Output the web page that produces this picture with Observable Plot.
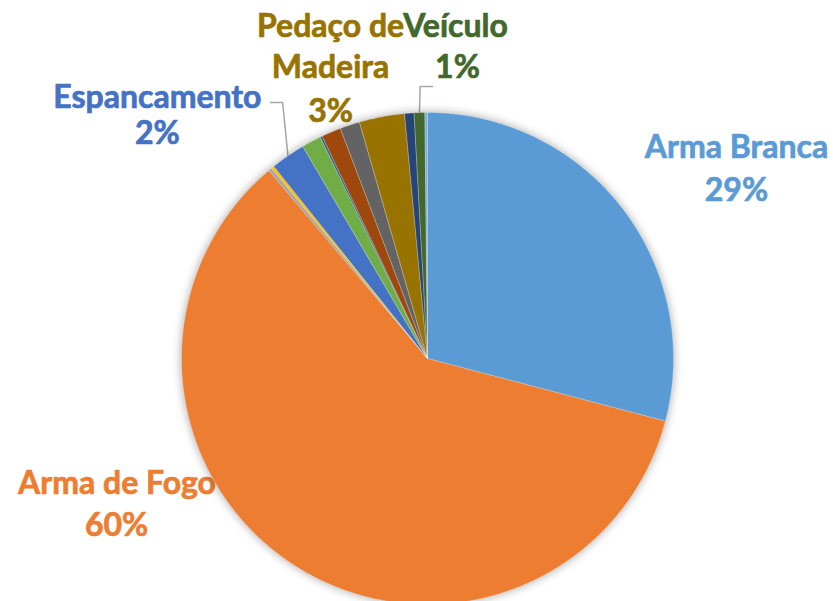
<!DOCTYPE html>
<html><head><meta charset="utf-8">
<script src="https://cdn.jsdelivr.net/npm/d3@7"></script>
<script src="https://cdn.jsdelivr.net/npm/@observablehq/plot@0.6"></script>
<style>body{margin:0;background:#fff;} #chart{width:833px;height:601px;overflow:hidden}</style>
</head><body><div id="chart"></div>
<script>
// Data (shares in %, clockwise from 12 o'clock)
const categories = ["Arma Branca","Arma de Fogo","Outro A","Outro B","Espancamento","Outro C","Outro D","Outro E","Outro F","Pedaço de Madeira","Outro G","Veículo","Outro H"];
const values = [29.1, 59.75, 0.22, 0.19, 2.28, 1.28, 0.14, 1.28, 1.3, 2.97, 0.62, 0.7, 0.17];
const colors = ["#5B9BD5","#ED7D31","#A5A5A5","#FFC000","#4472C4","#70AD47","#255E91","#9E480E","#636363","#997300","#264478","#43682B","#7CAFDD"];
const labeledCategories = ["Arma Branca","Arma de Fogo","Espancamento","Pedaço de Madeira","Veículo"];
const nameLines = {"Pedaço de Madeira": ["Pedaço de","Madeira"]};

// Layout (label line positions in pie-radius units from the centre; last line = percentage)
const labelLayout = {
  "Arma Branca": [[1.256, 0.817], [1.256, 0.642]],
  "Arma de Fogo": [[-1.262, -0.549], [-1.264, -0.720]],
  "Espancamento": [[-1.098, 1.020], [-1.098, 0.870]],
  "Pedaço de Madeira": [[-0.394, 1.305], [-0.394, 1.142], [-0.394, 0.963]],
  "Veículo": [[0.114, 1.305], [0.122, 1.142]]
};
const leaderLayout = {
  "Espancamento": [[-0.638, 1.041], [-0.589, 1.041]],
  "Veículo": [[0.020, 1.106], [-0.030, 1.106]]
};

const data = categories.map((name, i) => ({name, value: values[i]}));
const total = d3.sum(values);
const fmt = d3.format(".0%");
const arcs = d3.pie().sort(null).value(d => d.value)(data);
const byName = new Map(arcs.map(a => [a.data.name, a]));

const step = Math.PI / 720;
const slicePts = arcs.flatMap(a => {
  const name = a.data.name;
  const n = Math.max(2, Math.ceil((a.endAngle - a.startAngle) / step));
  const pts = [{name, x: 0, y: 0}];
  for (let i = 0; i <= n; i++) {
    const t = a.startAngle + (a.endAngle - a.startAngle) * i / n;
    pts.push({name, x: Math.sin(t), y: Math.cos(t)});
  }
  pts.push({name, x: 0, y: 0});
  return pts;
});

const labelData = labeledCategories.flatMap(name => {
  const lines = (nameLines[name] || [name]).concat([fmt(byName.get(name).value / total)]);
  return lines.map((text, i) => ({name, text, x: labelLayout[name][i][0], y: labelLayout[name][i][1]}));
});

const leaderPts = Object.keys(leaderLayout).flatMap(name => {
  const a = byName.get(name);
  const mid = (a.startAngle + a.endAngle) / 2;
  return leaderLayout[name].map(([x, y]) => ({name, x, y}))
    .concat([{name, x: Math.sin(mid), y: Math.cos(mid)}]);
});

const chart = Plot.plot({
  width: 833, height: 601, margin: 0,
  style: {background: "#fff"},
  x: {domain: [-1, 1], range: [181, 673], axis: null},
  y: {domain: [-1, 1], range: [604, 112], axis: null},
  color: {domain: categories, range: colors},
  marks: [
    Plot.text(labelData, {x: "x", y: "y", text: "text", fill: "name", stroke: "name", strokeWidth: 0.7,
      textAnchor: "middle", lineAnchor: "bottom", fontSize: 32, fontWeight: "bold", fontFamily: "Lato"}),
    Plot.line(leaderPts, {x: "x", y: "y", z: "name", stroke: "#a6a6a6", strokeWidth: 1.5, curve: "linear"}),
    Plot.line(slicePts, {x: "x", y: "y", z: "name", fill: "name", stroke: "white", strokeWidth: 0.5, strokeOpacity: 0.5, curve: "linear"})
  ]
});
const gs = chart.querySelectorAll('g[aria-label="line"]');
gs[gs.length - 1].style.filter = "drop-shadow(0px 0px 5px rgba(0,0,0,0.35))";
document.getElementById("chart").appendChild(chart);
</script></body></html>
